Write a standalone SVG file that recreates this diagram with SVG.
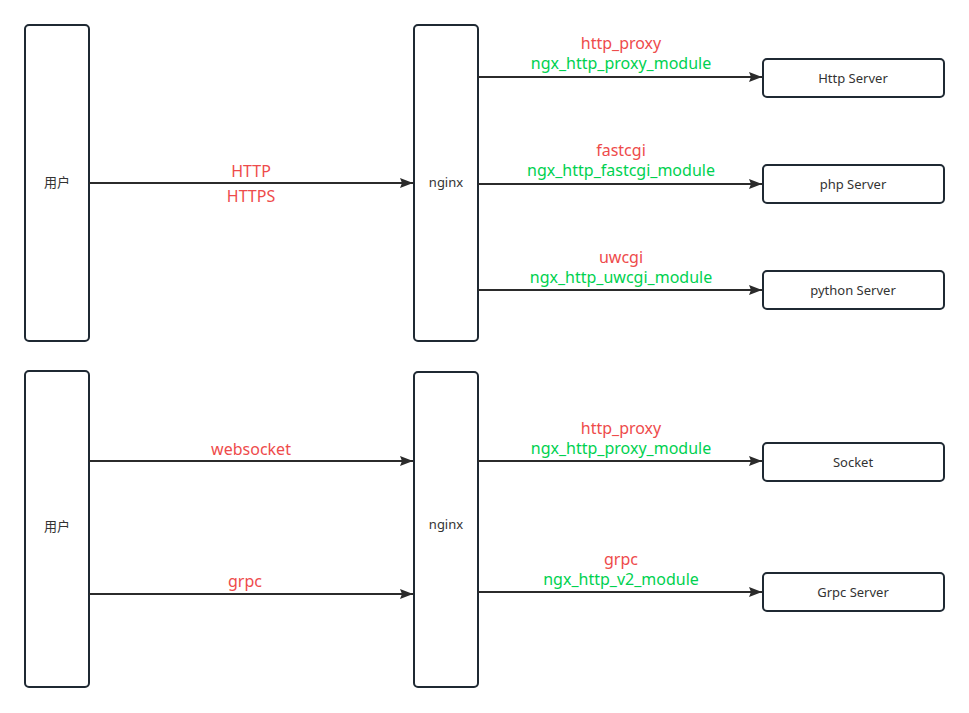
<svg xmlns="http://www.w3.org/2000/svg" width="969" height="713" viewBox="0 0 969 713">
<style>
.box{fill:#fff;stroke:#1f2933;stroke-width:2}
.lbl{font-family:"Noto Sans","Noto Sans CJK SC",sans-serif;font-size:13px;fill:#333;text-anchor:middle}
.red{font-family:"Noto Sans",sans-serif;font-size:16px;fill:#ee4b4b;text-anchor:middle}
.grn{font-family:"Noto Sans",sans-serif;font-size:16px;fill:#00d150;text-anchor:middle}
.ln{stroke:#2b2b2b;stroke-width:2;fill:none;marker-end:url(#ah)}
</style>
<defs>
<marker id="ah" viewBox="0 0 14 12" refX="13" refY="6" markerWidth="14" markerHeight="12" markerUnits="userSpaceOnUse" orient="auto"><path d="M0,1 L13,6 L0,11 L2,6 Z" fill="#2b2b2b"/></marker>
</defs>
<rect width="969" height="713" fill="#fff"/>
<g id="user1"><rect class="box" x="25" y="25" width="64" height="316" rx="4"/><text class="lbl" x="57" y="187">用户</text></g>
<g id="nginx1"><rect class="box" x="414" y="25" width="64" height="316" rx="4"/><text class="lbl" x="446" y="187">nginx</text></g>
<g id="http"><rect class="box" x="763" y="59" width="181" height="38" rx="4"/><text class="lbl" x="853" y="83">Http Server</text></g>
<g id="php"><rect class="box" x="763" y="165" width="181" height="38" rx="4"/><text class="lbl" x="853" y="189">php Server</text></g>
<g id="python"><rect class="box" x="763" y="271" width="181" height="38" rx="4"/><text class="lbl" x="853" y="295">python Server</text></g>
<g id="user2"><rect class="box" x="25" y="371" width="64" height="316" rx="4"/><text class="lbl" x="57" y="531">用户</text></g>
<g id="nginx2"><rect class="box" x="414" y="372" width="64" height="315" rx="4"/><text class="lbl" x="446" y="529">nginx</text></g>
<g id="socket"><rect class="box" x="763" y="443" width="181" height="38" rx="4"/><text class="lbl" x="853" y="467">Socket</text></g>
<g id="grpcs"><rect class="box" x="763" y="573" width="181" height="38" rx="4"/><text class="lbl" x="853" y="597">Grpc Server</text></g>
<g id="connectors">
<path class="ln" d="M89,183 H413"/>
<path class="ln" d="M478,77 H762"/>
<path class="ln" d="M478,184 H762"/>
<path class="ln" d="M478,290 H762"/>
<path class="ln" d="M89,461 H413"/>
<path class="ln" d="M89,594 H413"/>
<path class="ln" d="M478,461 H762"/>
<path class="ln" d="M478,592 H762"/>
</g>
<g id="labels">
<text class="red" x="251" y="177">HTTP</text>
<text class="red" x="251" y="202">HTTPS</text>
<text class="red" x="621" y="49">http_proxy</text>
<text class="grn" x="621" y="69">ngx_http_proxy_module</text>
<text class="red" x="621" y="156">fastcgi</text>
<text class="grn" x="621" y="176">ngx_http_fastcgi_module</text>
<text class="red" x="621" y="263">uwcgi</text>
<text class="grn" x="621" y="283">ngx_http_uwcgi_module</text>
<text class="red" x="251" y="455">websocket</text>
<text class="red" x="245" y="587">grpc</text>
<text class="red" x="621" y="434">http_proxy</text>
<text class="grn" x="621" y="454">ngx_http_proxy_module</text>
<text class="red" x="621" y="565">grpc</text>
<text class="grn" x="621" y="585">ngx_http_v2_module</text>
</g>
</svg>
